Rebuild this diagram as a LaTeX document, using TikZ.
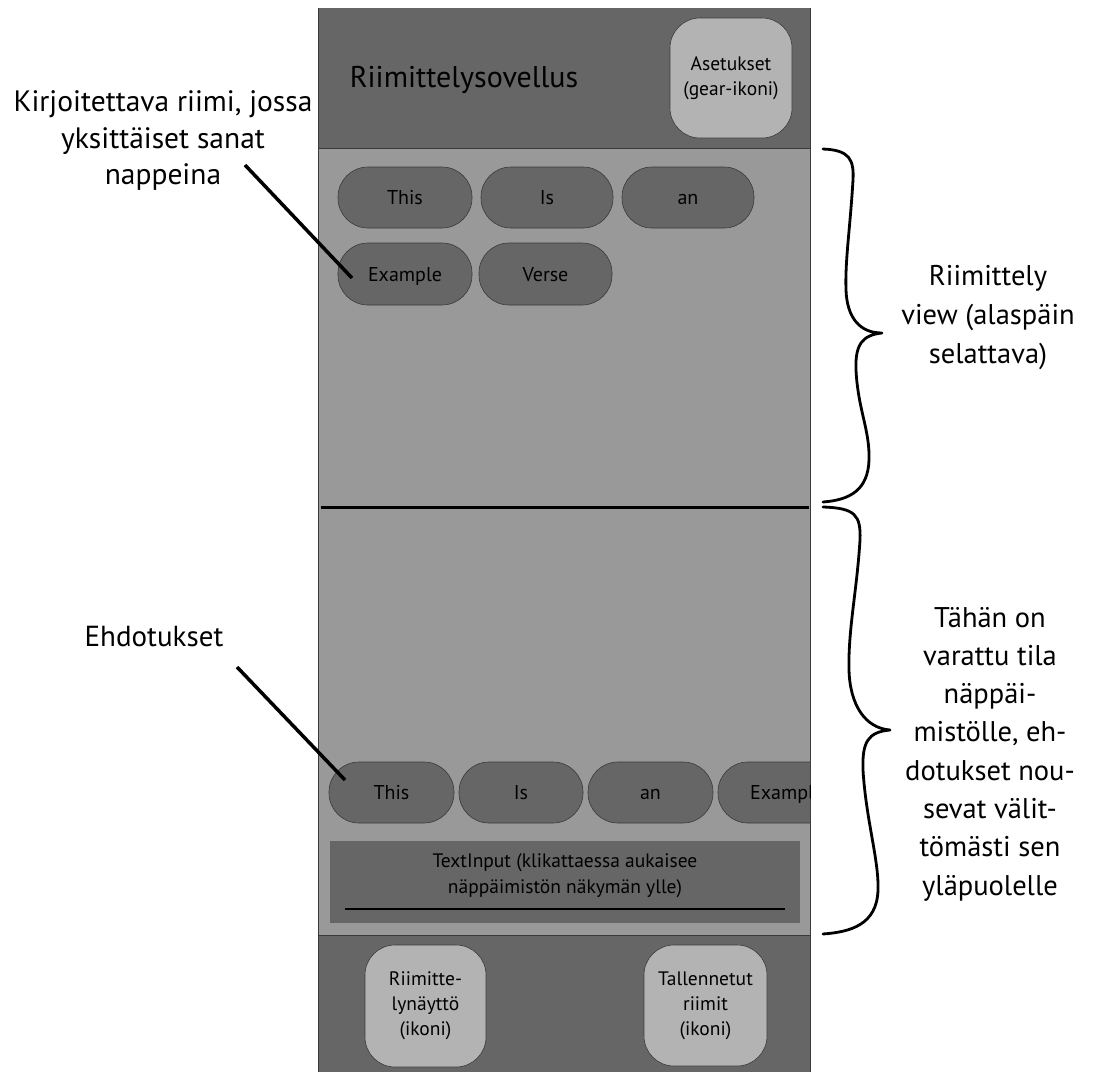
\documentclass[tikz,border=0pt]{standalone}
\usepackage{fontspec}
\setmainfont{PT Sans}
\definecolor{darkbar}{HTML}{666666}
\definecolor{midpanel}{HTML}{999999}
\definecolor{lightbtn}{HTML}{B3B3B3}
\definecolor{edge}{HTML}{3A3A3A}
\tikzset{
  pill/.style={draw=edge, line width=0.6pt, fill=darkbar, rounded corners=30pt, minimum height=61pt, inner sep=0pt, text height=16pt, text depth=2pt, font=\fontsize{20}{24}\selectfont},
  iconbtn/.style={draw=edge, line width=0.6pt, fill=lightbtn, rounded corners=30pt, inner sep=0pt, align=center, font=\fontsize{19.5}{25}\selectfont},
  note/.style={align=center, font=\fontsize{28}{37}\selectfont},
  pointer/.style={line width=3.5pt},
  bracepath/.style={line width=2.8pt, line cap=round, line join=round},
}
\begin{document}
\begin{tikzpicture}[x=1pt,y=-1pt]
\useasboundingbox (0,0) rectangle (1096,1072);
% phone frame
\fill[darkbar] (318,8) rectangle (810,148);
\draw[edge, line width=0.6pt] (318,8) -- (318,148) -- (810,148) -- (810,8);
\fill[midpanel] (318,148) rectangle (810,935);
\draw[edge, line width=0.8pt] (318,148) rectangle (810,935);
\fill[darkbar] (318,935) rectangle (810,1072);
\draw[edge, line width=0.6pt] (318,1072) -- (318,935) -- (810,935) -- (810,1072);

% top bar
\node[font=\fontsize{30}{36}\selectfont] (title) at (464,80) {Riimittelysovellus};
\node[iconbtn, minimum width=122pt, minimum height=120pt] (settings) at (731,78) {Asetukset\\(gear-ikoni)};

% verse words
\node[pill, minimum width=134pt] (w1) at (405,197.5) {This};
\node[pill, minimum width=132pt] (w2) at (547,197.5) {Is};
\node[pill, minimum width=132pt] (w3) at (688,197.5) {an};
\node[pill, minimum width=134pt, minimum height=62pt] (w4) at (405,274) {Example};
\node[pill, minimum width=133pt, minimum height=62pt] (w5) at (545.5,274) {Verse};

% divider
\coordinate (divL) at (321,507);
\coordinate (divR) at (809,507);
\draw[line width=3pt] (divL) -- (divR);

% suggestions
\node[pill, minimum width=125pt] (s1) at (391.5,792.5) {This};
\node[pill, minimum width=124pt] (s2) at (521,792.5) {Is};
\node[pill, minimum width=125pt] (s3) at (650.5,792.5) {an};
\begin{scope}
\clip (318,740) rectangle (810,840);
\node[pill, minimum width=125pt] (s4) at (780.5,792.5) {};
\node[anchor=west, inner sep=0pt, text height=16pt, text depth=2pt, font=\fontsize{20}{24}\selectfont] (s4t) at (750,792.5) {Example};
\end{scope}

% text input
\node[fill=darkbar, minimum width=470pt, minimum height=82pt, inner sep=0pt] (input) at (565,882) {};
\node[align=center, font=\fontsize{19.5}{26}\selectfont] (inputtext) at (565,876) {TextInput (klikattaessa aukaisee\\näppäimistön näkymän ylle)};
\coordinate (ulL) at (345,909);
\coordinate (ulR) at (785,909);
\draw[line width=2pt] (ulL) -- (ulR);

% bottom bar icons
\node[iconbtn, minimum width=121pt, minimum height=122pt] (nav1) at (425.5,1006) {Riimitte-\\lynäyttö\\(ikoni)};
\node[iconbtn, minimum width=123pt, minimum height=121pt] (nav2) at (705.5,1005.5) {Tallennetut\\riimit\\(ikoni)};

% left annotations
\node[note, font=\fontsize{29.5}{36.5}\selectfont] (verseNote) at (163,141) {Kirjoitettava riimi, jossa\\yksittäiset sanat\\nappeina};
\coordinate (p1a) at (245,165);
\coordinate (p1b) at (352,278);
\draw[pointer] (p1a) -- (p1b);
\node[note, font=\fontsize{29}{37}\selectfont] (suggNote) at (154,637) {Ehdotukset};
\coordinate (p2a) at (237,667);
\coordinate (p2b) at (345,780);
\draw[pointer] (p2a) -- (p2b);

% right braces
\coordinate (b1top) at (823,149);
\coordinate (b1tip) at (882,333);
\coordinate (b1bot) at (823,502);
\draw[bracepath] (b1top) .. controls (850,150) and (854,160) .. (853,180)
  .. controls (850,230) and (845,260) .. (846,290)
  .. controls (847,318) and (860,333) .. (b1tip)
  .. controls (862,335) and (855,345) .. (856,370)
  .. controls (858,410) and (870,430) .. (869,460)
  .. controls (868,490) and (850,500) .. (b1bot);
\node[note, font=\fontsize{28.5}{39}\selectfont] (viewNote) at (988,318) {Riimittely\\view (alaspäin\\selattava)};

\coordinate (b2top) at (823,507);
\coordinate (b2tip) at (890,730);
\coordinate (b2bot) at (823,934);
\draw[bracepath] (b2top) .. controls (855,508) and (861,515) .. (860,540)
  .. controls (857,590) and (848,630) .. (849,670)
  .. controls (850,705) and (865,728) .. (b2tip)
  .. controls (868,732) and (862,742) .. (863,770)
  .. controls (866,820) and (879,860) .. (878,890)
  .. controls (877,925) and (850,932) .. (b2bot);
\node[note, font=\fontsize{28.5}{38.3}\selectfont] (keyNote) at (990,754) {Tähän on\\varattu tila\\näppäi-\\mistölle, eh-\\dotukset nou-\\sevat välit-\\tömästi sen\\yläpuolelle};
\end{tikzpicture}
\end{document}
